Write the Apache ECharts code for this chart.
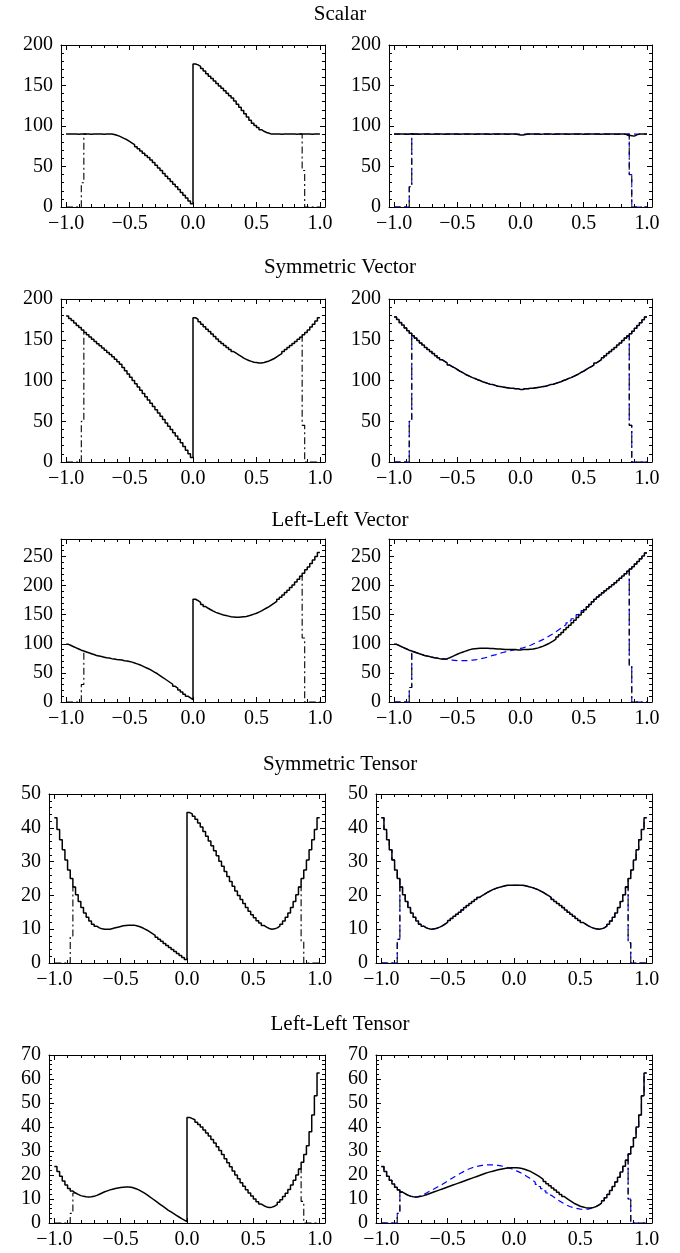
<!DOCTYPE html>
<html><head><meta charset="utf-8">
<script src="https://cdn.jsdelivr.net/npm/echarts@6/dist/echarts.min.js"></script>
<style>html,body{margin:0;padding:0;background:#fff}#c{width:680px;height:1253px}</style>
</head><body><div id="c"></div><script>
// ---------------- DATA ----------------
// histogram bin edges (100 bins of width 0.02 from -1 to 1)
const binEdges = [-1,-0.98,-0.96,-0.94,-0.92,-0.9,-0.88,-0.86,-0.84,-0.82,-0.8,-0.78,-0.76,-0.74,-0.72,-0.7,-0.68,-0.66,-0.64,-0.62,-0.6,-0.58,-0.56,-0.54,-0.52,-0.5,-0.48,-0.46,-0.44,-0.42,-0.4,-0.38,-0.36,-0.34,-0.32,-0.3,-0.28,-0.26,-0.24,-0.22,-0.2,-0.18,-0.16,-0.14,-0.12,-0.1,-0.08,-0.06,-0.04,-0.02,0,0.02,0.04,0.06,0.08,0.1,0.12,0.14,0.16,0.18,0.2,0.22,0.24,0.26,0.28,0.3,0.32,0.34,0.36,0.38,0.4,0.42,0.44,0.46,0.48,0.5,0.52,0.54,0.56,0.58,0.6,0.62,0.64,0.66,0.68,0.7,0.72,0.74,0.76,0.78,0.8,0.82,0.84,0.86,0.88,0.9,0.92,0.94,0.96,0.98,1];

const titles = ['Scalar','Symmetric Vector','Left-Left Vector','Symmetric Tensor','Left-Left Tensor'];

// tick labels
const xMajorTicks = [-1,-0.5,0,0.5,1];
const xMinorTicks = [-1,-0.9,-0.8,-0.7,-0.6,-0.5,-0.4,-0.3,-0.2,-0.1,0,0.1,0.2,0.3,0.4,0.5,0.6,0.7,0.8,0.9,1];
const yTicksScalar = [0,50,100,150,200];
const yTicksSymVec = [0,50,100,150,200];
const yTicksLLVec = [0,50,100,150,200,250];
const yTicksSymTen = [0,10,20,30,40,50];
const yTicksLLTen = [0,10,20,30,40,50,60,70];

// Scalar
const scalarLeft = [90,90,90.2,90,89.8,90,90.2,90,90,89.9,90,90.1,90,90,89.9,90,90.1,
  90,89.5,88.5,87.5,86,84.5,83,81,79,77,74.5,72,69,66.5,63.5,61,58,55,51.5,48,45,41.5,38,35,31.5,28,25,21.5,18,14.5,11,7.5,4,
  176.5,175.5,173.5,171,168,164.5,161.5,158.5,155.5,152.5,149.5,146.5,143.5,140.5,137.5,134.5,131,127,123,119,115,111,107,103.5,100.5,98,95.5,93.5,92,91,
  90,90,90.1,90,89.9,90,90,90.2,90,90,89.9,90,90,90.1,90,90,89.8,90,90,90];
const scalarRightMC = [90,90,90.2,90,89.8,90,90.3,90,90,89.8,90,90.2,90,90,89.9,90,90.1,90,90,89.9,90,90,90.2,90,90,89.8,90,90,90.1,90,90,89.9,90,90,90.2,90,90,89.8,90,90,90,90.1,90,90,89.9,90,90,90,89.5,89,
  89,89.5,90,90,90.1,90,90,89.9,90,90.2,90,90,89.8,90,90,90.1,90,90,89.9,90,90,90.2,90,90,89.9,90,90,90.1,90,90,90,89.9,90,90,90.1,90,90,89.8,90,90,90,89.5,88.5,88,87.5,89,90,90,90,90];
const scalarRightFit = [90,90,90,90,90,90,90,90,90,90,90,90,90,90,90,90,90,90,90,90,90,90,90,90,90,90,90,90,90,90,90,90,90,90,90,90,90,90,90,90,90,90,90,90,90,90,90,90,90,90,
  90,90,90,90,90,90,90,90,90,90,90,90,90,90,90,90,90,90,90,90,90,90,90,90,90,90,90,90,90,90,90,90,90,90,90,90,90,90,90,90,90,90,90,90,90,90,90,90,90,90];

// Symmetric Vector
const symVecLeft = [179,176,173.5,170.5,167.5,165,162,159,156,153.5,150.5,148,145,142.5,140,137,134.5,132,129,126,123,120,116,112,108,104,100,96,92,88,84,80,76,72,68,64,60,56,52,48,44,40,36,32,28,23.5,19,14.5,10,5.5,
  177,175,172,169,166,163,160,157,154,151,148,145.5,143,140.5,138,135.5,133.5,131.5,129.5,127.5,126,124.5,123.5,122.5,122,121.5,121.5,122,123,124,125.5,127,129,131,133,135.5,138,140.5,143,145.5,148,150.5,153,156,159,162,165.5,169,173,177];
const symVecRightMC = [178,175,171,168,164.5,161,158,155,152,149,146,143.5,140.5,138,135.5,133,130.5,128,125.5,123.5,121.5,119,117,115.5,113.5,111.5,110,108,106.5,105,103.5,102.5,101,100,98.5,97.5,96.5,95.5,95,94,93,92.5,92,91.5,91,90.5,90.5,90,90,89,
  89,90,90,90.5,90.5,91,91.5,92,92.5,93,94,95,95.5,96.5,97.5,98.5,100,101,102.5,103.5,105,106.5,108,110,111.5,113.5,115.5,117,119,121.5,123.5,125.5,128,130.5,133,135.5,138,140.5,143.5,146,149,152,154.5,157.5,160.5,164,167.5,171,174.5,178];
const symVecRightFit = [178,175,171.5,168,164.5,161,158,155,152,149,146,143.5,140.5,138,135.5,133,130.5,128,125.5,123.5,121.5,119,117,115.5,113.5,111.5,110,108,106.5,105,103.5,102.5,101,100,98.5,97.5,96.5,95.5,95,94,93,92.5,92,91.5,91,90.5,90.5,90,90,90,
  90,90,90,90.5,90.5,91,91.5,92,92.5,93,94,95,95.5,96.5,97.5,98.5,100,101,102.5,103.5,105,106.5,108,110,111.5,113.5,115.5,117,119,121.5,123.5,125.5,128,130.5,133,135.5,138,140.5,143.5,146,149,152,154.5,157.5,160.5,164,167.5,171,174.5,178];

// Left-Left Vector
const llVecLeft = [99,97,95,93,91,89,87.5,86,84.5,83,81.5,80,79,78,77,76,75.5,74.5,74,73,72.5,72,71,70.5,69.5,68.5,67,65.5,64,62,60,58,56,53.5,51,48.5,45.5,42.5,39.5,36.5,33.5,30.5,27,24,20.5,17,13.5,10,7,4,
  176.5,174,171,167.5,164,161,158.5,156,154,152.5,151,149.5,148.5,147.5,146.5,146,145.5,145.5,146,146.5,147,148,149.5,151,152.5,154.5,156.5,159,161.5,164,167,170,173,176.5,180,184,188,192,196.5,201,206,211,216,221,227,232,238,244,250,257];
const llVecRightMC = [99,97,95,93,91,89,87.5,86,84.5,83,81.5,80,79,78,77,76,75.5,74.5,74,74,74.5,76,78,80,82,84,85.5,87,88.5,90,91,91.5,92,92.5,92.5,92.5,92.5,92,92,91.5,91,91,90.5,90,90,90,90,90,89.5,89.5,
  90,90,90,90.5,91,92,93,94.5,96,98,100,102.5,105,108,111.5,115.5,119.5,124,128,132,136,140.5,145,149.5,154,158.5,163,167.5,172,176.5,180.5,184,187.5,191,194.5,198,201.5,205,208.5,212.5,216.5,220.5,224.5,228.5,232.5,237,241.5,246,251,256];
const llVecRightFit = [99,97,95,93,91,89,87.5,86,84.5,83,81.5,80,79,78,77,76,75.5,74.5,74,73.5,73,72.5,72,71.5,71,71,71,71,71,71.5,72,72.5,73,74,75,76,77,78.5,80,81,82.5,84,85,86,87,88,89,90,91,92,
  93,94.5,96,97.5,99.5,101.5,103.5,105.5,107.5,110,112.5,115,117.5,120.5,123.5,126.5,129.5,132.5,136,139.5,143,146.5,150,153.5,157,160.5,164,168,172,176.5,180.5,184,187.5,191,194.5,198,201.5,205,208.5,212.5,216.5,220.5,224.5,228.5,232.5,237,241.5,246,251,256];

// Symmetric Tensor
const symTenLeft = [43,39.5,36.5,33.5,30.5,27.5,25,22.5,20.2,18.2,16.4,14.8,13.5,12.4,11.5,10.9,10.4,10.1,10,10,10,10.2,10.4,10.6,10.8,11,11.1,11.2,11.2,11.2,11,10.8,10.5,10.1,9.7,9.2,8.7,8.2,7.6,7,6.4,5.8,5.2,4.6,4,3.4,2.8,2.2,1.6,1,
  44.5,44.1,43.4,42.5,41.4,40.2,38.9,37.5,36.1,34.7,33.2,31.7,30.1,28.6,27.1,25.6,24.1,22.7,21.3,20,18.8,17.6,16.4,15.3,14.3,13.4,12.5,11.8,11.1,10.6,10.2,10,10.1,10.4,10.9,11.5,12.4,13.5,14.8,16.4,18.2,20.2,22.5,25,27.5,30.5,33.5,36.5,39.5,43];
const symTenRightMC = [43,39.5,36.5,33.5,30.5,27.5,25,22.5,20.2,18.2,16.4,14.8,13.5,12.4,11.5,10.9,10.4,10.1,10,10.1,10.3,10.6,11,11.5,12,12.6,13.2,13.8,14.4,15,15.7,16.4,17,17.6,18.2,18.8,19.4,19.9,20.4,20.9,21.3,21.7,22,22.3,22.5,22.7,22.9,23,23,23,
  23,23,23,22.9,22.7,22.5,22.3,22,21.7,21.3,20.9,20.4,19.9,19.4,18.8,18.2,17.6,17,16.4,15.7,15,14.4,13.8,13.2,12.6,12,11.5,11,10.6,10.3,10.1,10,10.1,10.4,10.9,11.5,12.4,13.5,14.8,16.4,18.2,20.2,22.5,25,27.5,30.5,33.5,36.5,39.5,43];
const symTenRightFit = [43,39.5,36.5,33.5,30.5,27.5,25,22.5,20.2,18.2,16.4,14.8,13.5,12.4,11.5,10.9,10.4,10.1,10,10.1,10.3,10.6,11,11.5,12,12.6,13.2,13.8,14.4,15,15.7,16.4,17,17.6,18.2,18.8,19.4,19.9,20.4,20.9,21.3,21.7,22,22.3,22.5,22.7,22.9,23,23,23,
  23,23,23,22.9,22.7,22.5,22.3,22,21.7,21.3,20.9,20.4,19.9,19.4,18.8,18.2,17.6,17,16.4,15.7,15,14.4,13.8,13.2,12.6,12,11.5,11,10.6,10.3,10.1,10,10.1,10.4,10.9,11.5,12.4,13.5,14.8,16.4,18.2,20.2,22.5,25,27.5,30.5,33.5,36.5,39.5,43];

// Left-Left Tensor
const llTenLeft = [23.5,21.5,19.5,17.5,15.8,14.4,13.3,12.5,11.9,11.4,11.1,10.9,10.8,10.9,11.1,11.5,12,12.5,13,13.4,13.8,14.1,14.4,14.6,14.8,14.9,15,15,14.9,14.6,14.2,13.7,13.1,12.4,11.7,10.9,10.1,9.3,8.5,7.7,6.9,6.1,5.3,4.6,3.9,3.2,2.5,1.8,1.2,0.6,
  44,43.5,43,42,41,40,38.8,37.5,36.2,34.8,33.3,31.8,30.2,28.5,26.8,25.1,23.4,21.7,20,18.4,16.8,15.3,13.9,12.5,11.2,10,8.9,7.9,7.2,6.7,6.5,6.6,7,7.7,8.6,9.7,11,12.4,14,15.8,17.8,20,22.5,25.3,28.5,32.2,38,45,53,62.5];
const llTenRightMC = [23.5,21.5,19.5,17.8,16.2,14.9,13.8,12.9,12.2,11.6,11.2,10.9,10.8,10.9,11.1,11.4,11.8,12.2,12.6,13,13.4,13.8,14.2,14.6,15,15.4,15.8,16.2,16.6,17,17.4,17.8,18.2,18.6,19,19.4,19.8,20.2,20.6,21,21.3,21.6,21.9,22.2,22.4,22.6,22.8,22.9,23,23,
  23,22.9,22.7,22.4,22,21.6,21,20.4,19.7,19,18.2,17.3,16.4,15.5,14.6,13.7,12.8,11.9,11,10.2,9.4,8.7,8,7.5,7,6.7,6.4,6.3,6.3,6.5,6.9,7.5,8.3,9.3,10.5,11.9,13.5,15.2,17.1,19.1,21.3,23.6,26.1,28.8,31.8,35.5,40,45,53,62.5];
const llTenRightFit = [23.5,21.5,19.5,17.8,16.2,14.9,13.8,12.9,12.2,11.6,11.2,10.9,10.8,11,11.4,11.9,12.5,13.1,13.7,14.3,14.9,15.5,16.1,16.8,17.5,18.2,18.9,19.6,20.2,20.8,21.4,22,22.5,22.9,23.3,23.6,23.8,24,24.1,24.2,24.2,24.2,24.1,24,23.8,23.6,23.3,23,22.6,22.2,
  21.7,21.2,20.6,20,19.3,18.6,17.8,17,16.1,15.2,14.3,13.4,12.5,11.6,10.8,10,9.3,8.6,8,7.4,6.9,6.5,6.2,6,5.8,5.7,5.7,5.8,6.1,6.5,6.9,7.5,8.3,9.3,10.5,11.9,13.5,15.2,17.1,19.1,21.3,23.6,26.1,28.8,31.8,35.5,40,45,53,62.5];

// acceptance cut: partially-filled edge bins [lo, hi] (bins at -0.88..-0.86 and 0.86..0.88)
const cutEdgeScalarL = [30, 45], cutEdgeScalarR = [25, 40];
const cutEdgeSymVecL = [50, 45], cutEdgeSymVecR = [50, 45];
const cutEdgeLLVecL = [30, 110], cutEdgeLLVecR = [25, 62];
const cutEdgeSymTenL = [8, 6.5], cutEdgeSymTenR = [7, 6];
const cutEdgeLLTenL = [4, 9], cutEdgeLLTenR = [4, 10];
const CUT_LO_BIN = 6, CUT_HI_BIN = 93;

// ---------------- LAYOUT ----------------
const X_MIN = -1.04, X_MAX = 1.04;
const FONT = 'Liberation Serif';
const rows = [
  {titleY: 15, top: 45, height: 162, yMax: 200, yTicks: yTicksScalar, yMinor: 10, lL: 61, wL: 264, lR: 389, wR: 263},
  {titleY: 268, top: 299, height: 163, yMax: 200, yTicks: yTicksSymVec, yMinor: 10, lL: 61, wL: 264, lR: 389, wR: 263},
  {titleY: 521, top: 539, height: 163, yMax: 280, yTicks: yTicksLLVec, yMinor: 10, lL: 61, wL: 264, lR: 389, wR: 263},
  {titleY: 765, top: 794, height: 169, yMax: 50, yTicks: yTicksSymTen, yMinor: 2, lL: 49, wL: 276, lR: 376, wR: 276},
  {titleY: 1025, top: 1055, height: 168, yMax: 70, yTicks: yTicksLLTen, yMinor: 2, lL: 49, wL: 276, lR: 376, wR: 276}
];
const panels = [
  {row:0, col:0, mc: scalarLeft, fit: null, cut: cutEdgeScalarL},
  {row:0, col:1, mc: scalarRightMC, fit: scalarRightFit, cut: cutEdgeScalarR},
  {row:1, col:0, mc: symVecLeft, fit: null, cut: cutEdgeSymVecL},
  {row:1, col:1, mc: symVecRightMC, fit: symVecRightFit, cut: cutEdgeSymVecR},
  {row:2, col:0, mc: llVecLeft, fit: null, cut: cutEdgeLLVecL},
  {row:2, col:1, mc: llVecRightMC, fit: llVecRightFit, cut: cutEdgeLLVecR},
  {row:3, col:0, mc: symTenLeft, fit: null, cut: cutEdgeSymTenL},
  {row:3, col:1, mc: symTenRightMC, fit: symTenRightFit, cut: cutEdgeSymTenR},
  {row:4, col:0, mc: llTenLeft, fit: null, cut: cutEdgeLLTenL},
  {row:4, col:1, mc: llTenRightMC, fit: llTenRightFit, cut: cutEdgeLLTenR}
];

function histPoints(vals) {
  const pts = vals.map((v, i) => [binEdges[i], v]);
  pts.push([binEdges[vals.length], vals[vals.length - 1]]);
  return pts;
}
// cut histogram: zero outside the acceptance, partial edge bins; the interior coincides
// with the uncut curve, so only the edge parts are drawn (nulls break the line there)
function cutPoints(vals, edge) {
  const cv = vals.map((v, i) => (i < CUT_LO_BIN || i > CUT_HI_BIN) ? 0 : (i === CUT_LO_BIN ? edge[0] : (i === CUT_HI_BIN ? edge[1] : v)));
  return histPoints(cv).map((pt, k) => (k >= CUT_LO_BIN + 2 && k <= CUT_HI_BIN - 2) ? [pt[0], null] : pt);
}
function tickRange(max, step) { const a = []; for (let v = 0; v <= max + 1e-9; v += step) a.push(Math.round(v * 1000) / 1000); return a; }
const fmtX = v => (v < 0 ? '\u2212' + (-v).toFixed(1) : v.toFixed(1));

const grids = [], xAxes = [], yAxes = [], series = [];
const black = '#000', blue = '#0000ff';
panels.forEach((p, gi) => {
  const r = rows[p.row];
  grids.push({left: p.col === 0 ? r.lL : r.lR, top: r.top, width: p.col === 0 ? r.wL : r.wR, height: r.height});
  const xi = xAxes.length, yi = yAxes.length;
  ['bottom', 'top'].forEach(pos => [true, false].forEach(major => {
    xAxes.push({
      type: 'value', gridIndex: gi, position: pos, min: X_MIN, max: X_MAX,
      axisLine: {show: major, onZero: false, lineStyle: {color: black, width: 1}},
      axisTick: {show: true, inside: true, length: major ? 5 : 3, customValues: major ? xMajorTicks : xMinorTicks, lineStyle: {color: black, width: 1}},
      axisLabel: (pos === 'bottom' && major) ? {show: true, customValues: xMajorTicks, formatter: fmtX, fontFamily: FONT, fontSize: 20, color: black, margin: 7} : {show: false},
      splitLine: {show: false}
    });
  }));
  const yMinorTicks = tickRange(r.yMax, r.yMinor);
  ['left', 'right'].forEach(pos => [true, false].forEach(major => {
    yAxes.push({
      type: 'value', gridIndex: gi, position: pos, min: 0, max: r.yMax,
      axisLine: {show: major, onZero: false, lineStyle: {color: black, width: 1}},
      axisTick: {show: true, inside: true, length: major ? 5 : 3, customValues: major ? r.yTicks : yMinorTicks, lineStyle: {color: black, width: 1}},
      axisLabel: (pos === 'left' && major) ? {show: true, customValues: r.yTicks, fontFamily: FONT, fontSize: 20, color: black, margin: 8} : {show: false},
      splitLine: {show: false}
    });
  }));
  const base = {type: 'line', step: 'end', symbol: 'none', showSymbol: false, connectNulls: false, xAxisIndex: xi, yAxisIndex: yi, silent: true, clip: true};
  if (p.fit) {
    series.push(Object.assign({}, base, {name: 'fit', z: 2, data: histPoints(p.fit), lineStyle: {color: blue, width: 1.2, type: [6, 4]}}));
    series.push(Object.assign({}, base, {name: 'fit cut', z: 2, data: cutPoints(p.fit, p.cut), lineStyle: {color: blue, width: 1.1, type: [6, 4]}}));
  }
  series.push(Object.assign({}, base, {name: 'cut', z: 3, data: cutPoints(p.mc, p.cut), lineStyle: {color: black, width: 1.1, type: [7, 3, 2, 3]}}));
  series.push(Object.assign({}, base, {name: 'mc', z: 4, data: histPoints(p.mc), lineStyle: {color: black, width: 1.5}}));
});

const titleComps = titles.map((t, i) => ({
  text: t, left: 'center', top: rows[i].titleY - 11, padding: 0,
  textStyle: {fontFamily: FONT, fontSize: 21, fontWeight: 'normal', color: black}
}));

const chart = echarts.init(document.getElementById('c'), null, {renderer: 'canvas'});
chart.setOption({
  animation: false, backgroundColor: '#fff',
  title: titleComps, grid: grids, xAxis: xAxes, yAxis: yAxes, series: series
});
</script></body></html>
